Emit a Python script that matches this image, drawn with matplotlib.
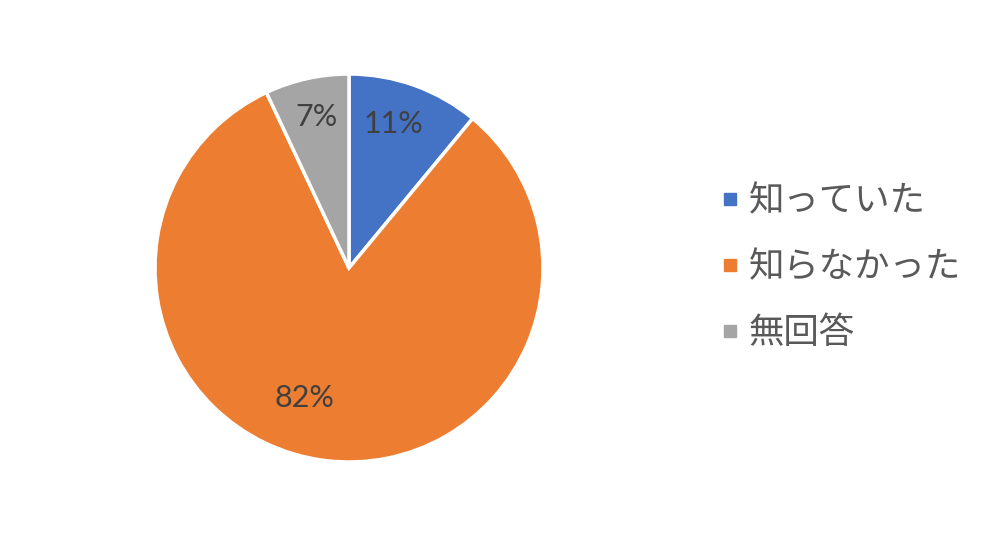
import matplotlib
matplotlib.use("Agg")
import matplotlib.pyplot as plt
from matplotlib.lines import Line2D

labels = ["知っていた", "知らなかった", "無回答"]
values = [11, 82, 7]
colors = ["#4472C4", "#ED7D31", "#A5A5A5"]

# label offsets (in pie radius units), as placed by the original chart
label_pos = [(0.23, 0.74), (-0.23, -0.67), (-0.17, 0.78)]

plt.rcParams["font.family"] = ["Lato", "DejaVu Sans"]

fig = plt.figure(figsize=(9.92, 5.37), dpi=100)
W, H = 992, 537
cx, cy, r = 349, 268, 194
ax = fig.add_axes([(cx - r) / W, (H - cy - r) / H, 2 * r / W, 2 * r / H])

wedges, texts, autotexts = ax.pie(
    values, colors=colors, startangle=90, counterclock=False,
    autopct="%d%%", radius=1,
    wedgeprops=dict(edgecolor="white", linewidth=2.5),
    textprops=dict(color="#404040", fontsize=22),
)
for t, p in zip(autotexts, label_pos):
    t.set_position(p)
ax.set_xlim(-1, 1)
ax.set_ylim(-1, 1)
ax.set_aspect("equal")
ax.axis("off")

handles = [Line2D([], [], marker="s", linestyle="none", markersize=8,
                  markerfacecolor=c, markeredgecolor=c) for c in colors]
fig.legend(handles, labels, loc="center left", bbox_to_anchor=(687 / W, 1 - 267 / H),
           frameon=False, handlelength=0.6, handletextpad=0.25, labelspacing=0.85,
           prop=dict(family=["Noto Sans CJK JP", "DejaVu Sans"], size=25.5),
           labelcolor="#595959")

fig.savefig("out.png", dpi=100)
